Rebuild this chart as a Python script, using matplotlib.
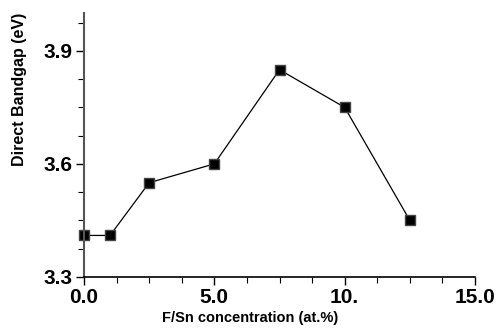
import matplotlib
matplotlib.use("Agg")
import matplotlib.pyplot as plt
from matplotlib.ticker import MultipleLocator, FixedFormatter, FixedLocator

# F/Sn concentration vs direct bandgap
conc = [0.0, 1.0, 2.5, 5.0, 7.5, 10.0, 12.5]
gap = [3.41, 3.41, 3.55, 3.60, 3.85, 3.75, 3.45]
xticks = [0.0, 5.0, 10.0, 15.0]
xlabels = ["0.0", "5.0", "10.", "15.0"]
yticks = [3.3, 3.6, 3.9]
ylabels = ["3.3", "3.6", "3.9"]

plt.rcParams['font.family'] = ['Liberation Sans', 'DejaVu Sans']

fig = plt.figure(figsize=(5, 3.3), dpi=100)
ax = fig.add_axes([0.168, 0.161, 0.782, 0.799])
ax.plot(conc, gap, color='black', lw=0.9, marker='s', ms=6.5,
        markerfacecolor='black', markeredgecolor='#444444', clip_on=False)

ax.set_xlim(0, 15)
ax.set_ylim(3.3, 4.0)
ax.xaxis.set_major_locator(FixedLocator(xticks))
ax.xaxis.set_major_formatter(FixedFormatter(xlabels))
ax.xaxis.set_minor_locator(MultipleLocator(1.25))
ax.yaxis.set_major_locator(FixedLocator(yticks))
ax.yaxis.set_major_formatter(FixedFormatter(ylabels))
ax.yaxis.set_minor_locator(MultipleLocator(0.075))

for s in ['top', 'right']:
    ax.spines[s].set_visible(False)
ax.spines['left'].set_color('#555555')
ax.spines['left'].set_linewidth(1.5)
ax.spines['bottom'].set_linewidth(1.2)

ax.tick_params(which='major', direction='out', length=6, width=1,
               labelsize=15, pad=2)
ax.tick_params(which='minor', direction='out', length=4, width=0.8)
for lab in ax.get_xticklabels() + ax.get_yticklabels():
    lab.set_fontweight('bold')

ax.set_xlabel('F/Sn concentration (at.%)', fontsize=10.5, fontweight='bold')
ax.xaxis.set_label_coords(0.425, -0.13)
ax.set_ylabel('Direct Bandgap (eV)', fontsize=11.5, fontweight='bold')
ax.yaxis.set_label_coords(-0.145, 0.71)

fig.savefig('out.png', dpi=100)
